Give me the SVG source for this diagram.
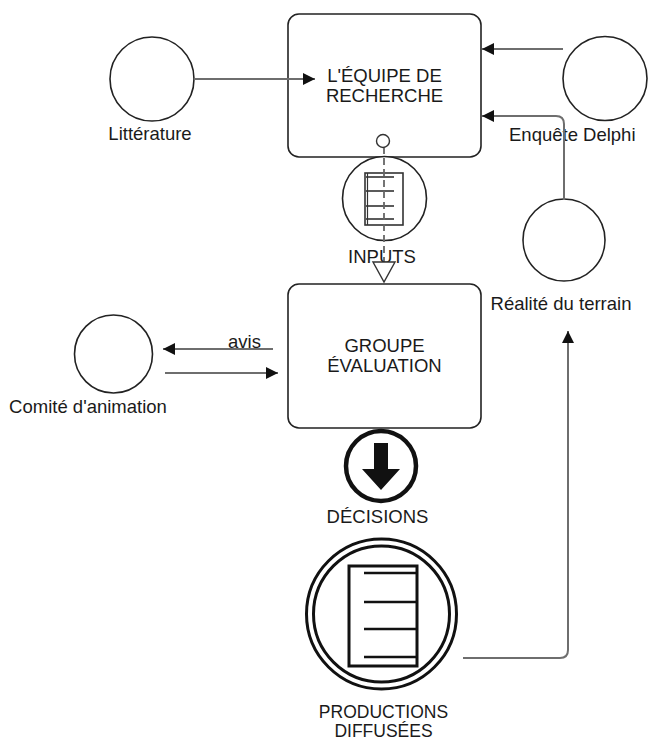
<svg xmlns="http://www.w3.org/2000/svg" width="670" height="740" viewBox="0 0 670 740">
<defs>
<style>
.box{fill:#fff;stroke:#222;stroke-width:1.6}
.c{fill:#fff;stroke:#222;stroke-width:1.6}
.t{font-family:"Liberation Sans",Arial,sans-serif;font-size:18.5px;fill:#1a1a1a}
.lbl{font-family:"Liberation Sans",Arial,sans-serif;font-size:18.5px;fill:#1a1a1a}
.e{fill:none;stroke:#6e6e6e;stroke-width:2}
</style>
<marker id="ah" viewBox="0 0 10 10" refX="10" refY="5" markerWidth="12" markerHeight="12" markerUnits="userSpaceOnUse" orient="auto">
<path d="M0,0 L10,5 L0,10 Z" fill="#111"/>
</marker>
</defs>
<rect width="670" height="740" fill="#fff"/>

<g id="equipe">
<rect class="box" x="288" y="14" width="193" height="143" rx="11"/>
<text class="t" x="384.5" y="82" text-anchor="middle">L'ÉQUIPE DE</text>
<text class="t" x="384.5" y="102" text-anchor="middle">RECHERCHE</text>
</g>

<g id="litterature">
<circle class="c" cx="152" cy="79" r="42"/>
<text class="lbl" x="150" y="140" text-anchor="middle">Littérature</text>
</g>

<g id="delphi">
<circle class="c" cx="605" cy="78.5" r="42"/>
<text class="lbl" x="509" y="141">Enquête Delphi</text>
</g>

<g id="realite">
<circle class="c" cx="564" cy="240" r="41"/>
<text class="lbl" x="561" y="310" text-anchor="middle">Réalité du terrain</text>
</g>

<g id="inputs">
<circle class="c" cx="384.5" cy="198.5" r="42"/>
<rect x="365" y="173" width="38" height="52" fill="none" stroke="#333" stroke-width="1.6"/>
<line x1="367.5" y1="173" x2="367.5" y2="225" stroke="#333" stroke-width="1.2"/>
<g stroke="#333" stroke-width="1.6">
<line x1="366" y1="177" x2="394" y2="177"/>
<line x1="366" y1="191" x2="394" y2="191"/>
<line x1="366" y1="206" x2="394" y2="206"/>
<line x1="366" y1="219" x2="394" y2="219"/>
</g>
<line x1="384" y1="147" x2="384" y2="262" stroke="#666" stroke-width="1.8" stroke-dasharray="7,4"/>
<circle cx="383" cy="141" r="6.5" fill="#fff" stroke="#333" stroke-width="1.4"/>
<text class="lbl" x="382" y="263" text-anchor="middle">INPUTS</text>
<path d="M373,262 L395,262 L384,282 Z" fill="#fff" stroke="#333" stroke-width="1.4"/>
</g>

<g id="groupe">
<rect class="box" x="288" y="284" width="193" height="144" rx="11"/>
<text class="t" x="384.5" y="352" text-anchor="middle">GROUPE</text>
<text class="t" x="384.5" y="372" text-anchor="middle">ÉVALUATION</text>
</g>

<g id="comite">
<circle class="c" cx="113.5" cy="354" r="39"/>
<text class="lbl" x="88" y="413" text-anchor="middle">Comité d'animation</text>
</g>

<g id="decisions">
<circle cx="381" cy="466" r="35" fill="#fff" stroke="#111" stroke-width="4.5"/>
<path d="M374,443 L388,443 L388,469 L400,469 L381,490 L362,469 L374,469 Z" fill="#111"/>
<text class="lbl" x="377.5" y="523" text-anchor="middle">DÉCISIONS</text>
</g>

<g id="productions">
<circle cx="381.5" cy="614" r="75" fill="#fff" stroke="#111" stroke-width="3"/>
<circle cx="381.5" cy="614" r="68" fill="none" stroke="#111" stroke-width="3"/>
<rect x="349" y="566" width="68" height="100" fill="none" stroke="#111" stroke-width="3"/>
<g stroke="#111" stroke-width="2.6">
<line x1="364" y1="573" x2="417" y2="573"/>
<line x1="364" y1="602" x2="417" y2="602"/>
<line x1="364" y1="629" x2="417" y2="629"/>
<line x1="364" y1="657" x2="417" y2="657"/>
</g>
<text class="lbl" x="383.5" y="718" text-anchor="middle" style="font-size:17.5px">PRODUCTIONS</text>
<text class="lbl" x="383.5" y="737" text-anchor="middle" style="font-size:17.5px">DIFFUSÉES</text>
</g>

<g id="edges">
<line class="e" x1="194" y1="79" x2="315" y2="79" marker-end="url(#ah)"/>
<line class="e" x1="563" y1="49" x2="482" y2="49" marker-end="url(#ah)"/>
<path class="e" d="M564,200 L564,124 Q564,116 556,116 L482,116" marker-end="url(#ah)"/>
<line class="e" x1="273" y1="349" x2="163" y2="349" marker-end="url(#ah)"/>
<line class="e" x1="165" y1="373" x2="278" y2="373" marker-end="url(#ah)"/>
<path class="e" d="M463,658 L560,658 Q568,658 568,650 L568,331" marker-end="url(#ah)"/>
<text class="lbl" x="228" y="348">avis</text>
</g>
</svg>
